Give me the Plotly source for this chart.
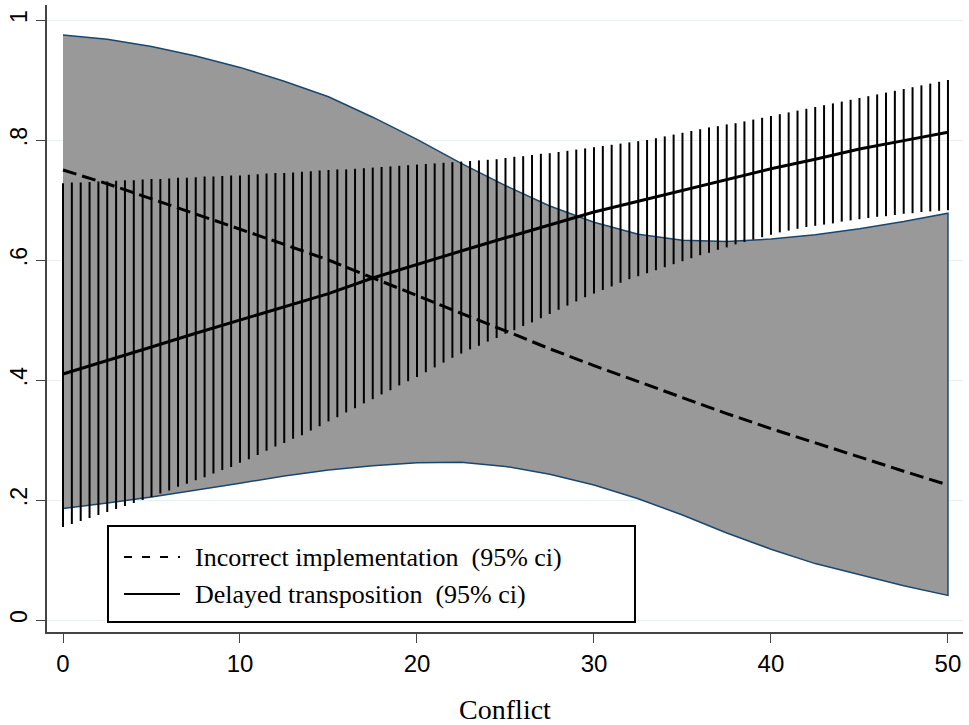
import plotly.graph_objects as go

# ---- data ----
conflict = [0, 2.5, 5, 7.5, 10, 12.5, 15, 17.5, 20, 22.5, 25, 27.5, 30,
            32.5, 35, 37.5, 40, 42.5, 45, 47.5, 50]

incorrect_est = [0.750, 0.727, 0.702, 0.677, 0.652, 0.626, 0.600, 0.570, 0.541,
                 0.511, 0.482, 0.452, 0.424, 0.397, 0.371, 0.344, 0.319, 0.295,
                 0.272, 0.248, 0.225]
incorrect_hi = [0.975, 0.968, 0.956, 0.940, 0.921, 0.898, 0.872, 0.838, 0.801,
                0.761, 0.724, 0.690, 0.663, 0.643, 0.633, 0.631, 0.635, 0.642,
                0.652, 0.664, 0.678]
incorrect_lo = [0.186, 0.195, 0.205, 0.216, 0.228, 0.240, 0.250, 0.257, 0.262,
                0.263, 0.256, 0.243, 0.225, 0.202, 0.175, 0.145, 0.118, 0.094,
                0.076, 0.057, 0.041]

delayed_est = [0.410, 0.432, 0.455, 0.478, 0.500, 0.522, 0.544, 0.570, 0.593,
               0.615, 0.637, 0.659, 0.680, 0.698, 0.716, 0.735, 0.752, 0.768,
               0.785, 0.799, 0.813]

spike_x = [i * 0.5 for i in range(101)]
delayed_lo = [0.155, 0.160, 0.165, 0.170, 0.175, 0.180, 0.185, 0.190, 0.195, 0.200,
              0.205, 0.211, 0.216, 0.222, 0.227, 0.233, 0.238, 0.244, 0.250, 0.255,
              0.262, 0.268, 0.275, 0.282, 0.289, 0.295, 0.302, 0.308, 0.316, 0.323,
              0.331, 0.338, 0.346, 0.353, 0.361, 0.368, 0.376, 0.383, 0.391, 0.398,
              0.405, 0.413, 0.421, 0.429, 0.437, 0.444, 0.451, 0.457, 0.464, 0.470,
              0.477, 0.483, 0.490, 0.496, 0.503, 0.510, 0.517, 0.524, 0.531, 0.538,
              0.544, 0.550, 0.556, 0.562, 0.568, 0.573, 0.578, 0.583, 0.588, 0.593,
              0.598, 0.603, 0.608, 0.612, 0.617, 0.621, 0.626, 0.630, 0.634, 0.638,
              0.642, 0.646, 0.649, 0.652, 0.655, 0.657, 0.659, 0.661, 0.664, 0.666,
              0.668, 0.670, 0.672, 0.673, 0.675, 0.677, 0.678, 0.680, 0.681, 0.682,
              0.683]
delayed_hi = [0.728, 0.729, 0.729, 0.730, 0.731, 0.731, 0.732, 0.733, 0.733, 0.734,
              0.735, 0.735, 0.736, 0.737, 0.737, 0.738, 0.739, 0.739, 0.740, 0.741,
              0.741, 0.742, 0.743, 0.744, 0.745, 0.745, 0.746, 0.747, 0.748, 0.749,
              0.750, 0.751, 0.751, 0.752, 0.753, 0.754, 0.755, 0.756, 0.757, 0.758,
              0.759, 0.760, 0.761, 0.762, 0.763, 0.764, 0.765, 0.766, 0.767, 0.768,
              0.770, 0.772, 0.773, 0.775, 0.777, 0.778, 0.780, 0.782, 0.784, 0.786,
              0.788, 0.790, 0.792, 0.794, 0.796, 0.798, 0.800, 0.803, 0.806, 0.809,
              0.812, 0.815, 0.818, 0.821, 0.823, 0.826, 0.828, 0.831, 0.834, 0.837,
              0.840, 0.843, 0.846, 0.849, 0.852, 0.855, 0.858, 0.861, 0.864, 0.867,
              0.870, 0.873, 0.876, 0.879, 0.882, 0.885, 0.888, 0.891, 0.894, 0.897,
              0.900]

x_ticks = [0, 10, 20, 30, 40, 50]
y_ticks = [0, 0.2, 0.4, 0.6, 0.8, 1]
y_labels = ["0", ".2", ".4", ".6", ".8", "1"]

legend_labels = ["Incorrect implementation\u00a0 (95% ci)",
                 "Delayed transposition\u00a0 (95% ci)"]
legend_dashes = ["8px,10px", "solid"]

fig = go.Figure()

# CI band for incorrect implementation
fig.add_trace(go.Scatter(
    x=conflict + conflict[::-1],
    y=incorrect_hi + incorrect_lo[::-1],
    fill="toself", fillcolor="#999999",
    line=dict(color="#1a476f", width=1.5),
    mode="lines", showlegend=False, hoverinfo="skip"))

# CI spikes for delayed transposition
sx, sy = [], []
for xv, lo, hi in zip(spike_x, delayed_lo, delayed_hi):
    sx += [xv, xv, None]
    sy += [lo, hi, None]
fig.add_trace(go.Scatter(x=sx, y=sy, mode="lines",
                         line=dict(color="black", width=2),
                         showlegend=False, hoverinfo="skip"))

fig.add_trace(go.Scatter(x=conflict, y=incorrect_est, mode="lines",
                         name=legend_labels[0], showlegend=False,
                         line=dict(color="black", width=3, dash="14px,6px")))
fig.add_trace(go.Scatter(x=conflict, y=delayed_est, mode="lines",
                         name=legend_labels[1], showlegend=False,
                         line=dict(color="black", width=3)))

# ---- legend box (Stata style), in paper coordinates ----
box = dict(x0=0.0666, x1=0.6419, y0=0.0159, y1=0.1691)
row_y = [0.1196, 0.0606]
fig.add_shape(type="rect", xref="paper", yref="paper", **box,
              line=dict(color="black", width=2), fillcolor="white", layer="above")
for lab, dsh, yy in zip(legend_labels, legend_dashes, row_y):
    fig.add_shape(type="line", xref="paper", yref="paper",
                  x0=0.0841, x1=0.1452, y0=yy, y1=yy,
                  line=dict(color="black", width=2.2, dash=dsh), layer="above")
    fig.add_annotation(xref="paper", yref="paper", x=0.1594, y=yy,
                       xanchor="left", yanchor="middle", showarrow=False,
                       text=lab,
                       font=dict(family="Liberation Serif", size=26, color="black"))

axis_col = "#444444"
fig.update_layout(
    width=969, height=725,
    margin=dict(l=47, r=6, t=5, b=93),
    plot_bgcolor="white", paper_bgcolor="white",
    showlegend=False,
    xaxis=dict(range=[-0.904, 50.85], tickvals=x_ticks,
               ticks="outside", ticklen=9, tickwidth=1, tickcolor=axis_col,
               showline=True, linecolor=axis_col, linewidth=1.5,
               showgrid=False, zeroline=False, automargin=False,
               ticklabelstandoff=0,
               tickfont=dict(family="Liberation Sans", size=24, color="black"),
               title=dict(text="Conflict", standoff=24,
                          font=dict(family="Liberation Serif", size=28, color="black"))),
    yaxis=dict(range=[-0.02, 1.025], tickvals=y_ticks, ticktext=y_labels,
               tickangle=-90,
               ticks="outside", ticklen=9, tickwidth=1, tickcolor=axis_col,
               showline=True, linecolor=axis_col, linewidth=1.5,
               showgrid=True, gridcolor="#E6EFF1", gridwidth=1,
               zeroline=False, automargin=False,
               ticklabelstandoff=0,
               tickfont=dict(family="Liberation Sans", size=23, color="black")),
)

# remove the browser's default 8px body margin so the figure fills the window
fig.write_html("out.html",
               config={"displayModeBar": False},
               post_script="document.body.style.margin='0';"
                           "document.body.style.overflow='hidden';")
